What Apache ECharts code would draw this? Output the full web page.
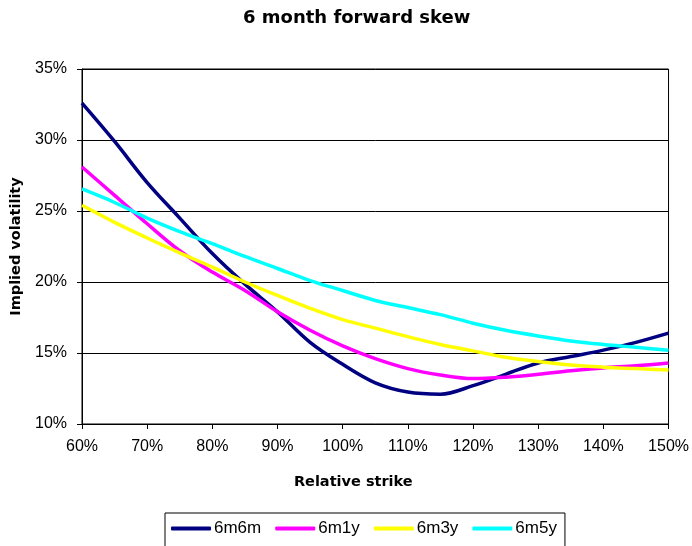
<!DOCTYPE html>
<html>
<head>
<meta charset="utf-8">
<script src="https://cdn.jsdelivr.net/npm/echarts@6/dist/echarts.min.js"></script>
<style>html,body{margin:0;padding:0;background:#fff}#c{width:692px;height:546px}</style>
</head>
<body>
<div id="c"></div>
<script>
const strikes = [60,65,70,75,80,85,90,95,100,105,110,115,120,125,130,135,140,145,150];
const s6m6m = [32.6,29.9,27.0,24.5,22.0,19.85,17.9,15.75,14.2,12.9,12.25,12.1,12.7,13.5,14.3,14.75,15.2,15.75,16.4];
const s6m1y = [28.1,26.1,24.1,22.2,20.7,19.4,17.9,16.6,15.5,14.6,13.9,13.45,13.2,13.3,13.5,13.75,13.95,14.1,14.3];
const s6m3y = [25.4,24.2,23.1,22.05,21.05,20.0,19.05,18.15,17.35,16.75,16.15,15.6,15.15,14.7,14.4,14.15,14.0,13.9,13.8];
const s6m5y = [26.55,25.6,24.5,23.55,22.7,21.8,20.95,20.1,19.4,18.7,18.2,17.7,17.1,16.6,16.2,15.85,15.6,15.4,15.2];
const seriesNames = ['6m6m','6m1y','6m3y','6m5y'];
const seriesColors = ['#000080','#FF00FF','#FFFF00','#00FFFF'];
const seriesValues = [s6m6m, s6m1y, s6m3y, s6m5y];

const chart = echarts.init(document.getElementById('c'));
const font = 'Liberation Sans, Arial, sans-serif';
const boldFont = 'DejaVu Sans, Verdana, sans-serif';
chart.setOption({
  backgroundColor: '#fff',
  animation: false,
  title: {
    text: '6 month forward skew',
    left: 238, top: 4,
    textStyle: {fontFamily: boldFont, fontSize: 18, fontWeight: 'bold', color: '#000'}
  },
  grid: {left: 82, right: 20, top: 69, bottom: 122, show: true, borderColor: '#000', borderWidth: 1},
  legend: {
    data: seriesNames,
    top: 513, left: 165,
    borderColor: '#000', borderWidth: 1,
    padding: [7, 8, 20, 6],
    itemGap: 14,
    itemWidth: 40, itemHeight: 4,
    icon: 'roundRect',
    textStyle: {fontFamily: font, fontSize: 17, color: '#000', padding: [0,0,0,-2]}
  },
  xAxis: {
    type: 'value', min: 60, max: 150, interval: 10,
    name: 'Relative strike', nameLocation: 'middle', nameGap: 51,
    nameTextStyle: {fontFamily: boldFont, fontSize: 14.5, fontWeight: 'bold', color: '#000', padding: [0, 44, 0, 0]},
    axisLine: {show: true, lineStyle: {color: '#000', width: 1}},
    axisTick: {show: true, length: 5, lineStyle: {color: '#000'}},
    axisLabel: {formatter: '{value}%', fontFamily: font, fontSize: 16, color: '#000', margin: 15},
    splitLine: {show: false}
  },
  yAxis: {
    type: 'value', min: 10, max: 35, interval: 5,
    name: 'Implied volatility', nameLocation: 'middle', nameGap: 47, nameRotate: 90,
    nameTextStyle: {fontFamily: boldFont, fontSize: 14.5, fontWeight: 'bold', color: '#000'},
    axisLine: {show: true, lineStyle: {color: '#000', width: 1}},
    axisTick: {show: true, length: 5, lineStyle: {color: '#000'}},
    axisLabel: {formatter: '{value}%', fontFamily: font, fontSize: 16, color: '#000', margin: 15},
    splitLine: {show: true, lineStyle: {color: '#000', width: 1}}
  },
  series: seriesNames.map((n, i) => ({
    name: n, type: 'line', smooth: 0.35, showSymbol: false, symbol: 'none',
    data: strikes.map((x, j) => [x, seriesValues[i][j]]),
    lineStyle: {color: seriesColors[i], width: 3.5},
    itemStyle: {color: seriesColors[i]}
  }))
});
</script>
</body>
</html>
